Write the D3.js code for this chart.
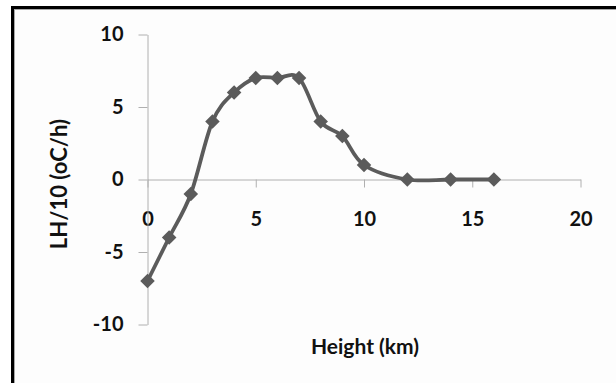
<!DOCTYPE html>
<html>
<head>
<meta charset="utf-8">
<script src="https://cdn.jsdelivr.net/npm/d3@7"></script>
<style>
  body { margin: 0; background: #fff; }
  text { font-family: Lato, "Open Sans", sans-serif; font-weight: bold; fill: #111; }
</style>
</head>
<body>
<div id="chart"></div>
<script>
// height in km and latent heating / 10 (oC/h)
var heights = [0, 1, 2, 3, 4, 5, 6, 7, 8, 9, 10, 12, 14, 16];
var lhValues = [-7, -4, -1, 4, 6, 7, 7, 7, 4, 3, 1, 0, 0, 0];
var xTicks = [0, 5, 10, 15, 20];
var yTicks = [-10, -5, 0, 5, 10];

var width = 616, height = 383;

var svg = d3.select("#chart").append("svg")
    .attr("width", width)
    .attr("height", height);

// outer frame (Excel chart border, cut off at right / bottom)
svg.append("rect")
    .attr("x", 12.5).attr("y", 7.5)
    .attr("width", 700).attr("height", 500)
    .attr("fill", "#fdfdfd")
    .attr("stroke", "#000").attr("stroke-width", 3);
svg.append("rect")
    .attr("x", 14.5).attr("y", 9.5)
    .attr("width", 700).attr("height", 500)
    .attr("fill", "none")
    .attr("stroke", "#a8a8a8").attr("stroke-width", 1);

var x = d3.scaleLinear().domain([0, 20]).range([147.5, 580.5]);
var y = d3.scaleLinear().domain([-10, 10]).range([324.5, 34.5]);

var plain = function(d) { return String(d); };

// x axis sits at y = 0, labels pushed below
var xAxis = svg.append("g")
    .attr("transform", "translate(0," + y(0) + ")")
    .call(d3.axisBottom(x).tickValues(xTicks).tickFormat(plain)
        .tickSize(8).tickSizeOuter(0).tickPadding(24));
xAxis.select(".domain").attr("stroke", "#b0b0b0");
xAxis.selectAll(".tick line").attr("stroke", "#b0b0b0");
xAxis.selectAll("text").attr("font-size", 20).attr("fill", "#111");

var yAxis = svg.append("g")
    .attr("transform", "translate(" + x(0) + ",0)")
    .call(d3.axisLeft(y).tickValues(yTicks).tickFormat(plain)
        .tickSize(9).tickSizeOuter(0).tickPadding(15));
yAxis.select(".domain").attr("stroke", "#b0b0b0");
yAxis.selectAll(".tick line").attr("stroke", "#b0b0b0");
yAxis.selectAll("text").attr("font-size", 20).attr("fill", "#111");
svg.selectAll(".tick text").style("font-family", "Lato, sans-serif").style("font-weight", "bold");

// smoothed line
var line = d3.line()
    .x(function(d, i) { return x(heights[i]); })
    .y(function(d) { return y(d); })
    .curve(d3.curveCardinal.tension(0));

svg.append("path")
    .datum(lhValues)
    .attr("d", line)
    .attr("fill", "none")
    .attr("stroke", "#5b5b5b")
    .attr("stroke-width", 3.8)
    .attr("stroke-linejoin", "round");

// diamond markers
svg.selectAll(".marker")
    .data(lhValues)
    .enter().append("path")
    .attr("class", "marker")
    .attr("d", d3.symbol().type(d3.symbolDiamond2).size(135))
    .attr("transform", function(d, i) { return "translate(" + x(heights[i]) + "," + y(d) + ")"; })
    .attr("fill", "#5b5b5b");

// axis titles
svg.append("text")
    .attr("x", 365).attr("y", 354)
    .attr("text-anchor", "middle")
    .attr("font-size", 21)
    .text("Height (km)");

svg.append("text")
    .attr("transform", "translate(67,184) rotate(-90)")
    .attr("text-anchor", "middle")
    .attr("font-size", 22)
    .text("LH/10 (oC/h)");
</script>
</body>
</html>
